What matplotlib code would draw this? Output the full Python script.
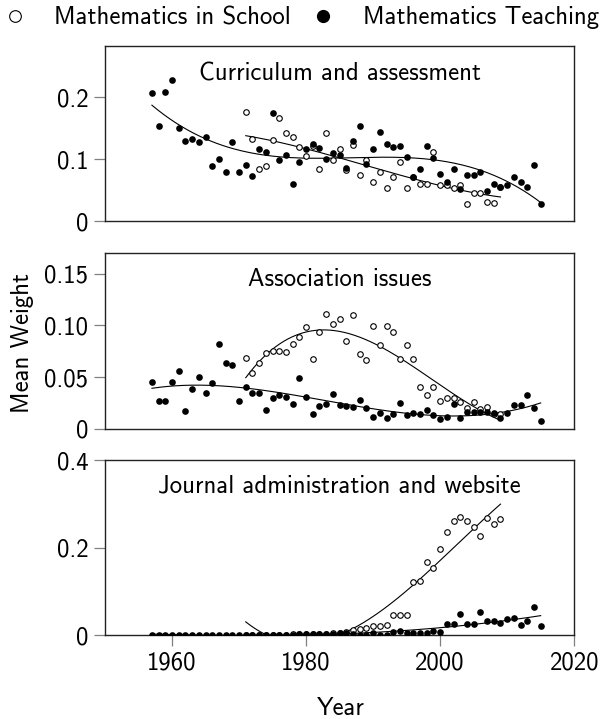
import numpy as np
import matplotlib
matplotlib.use("Agg")
import matplotlib.pyplot as plt
from matplotlib.lines import Line2D

plt.rcParams['font.family'] = ['cmss10', 'DejaVu Sans']
plt.rcParams['axes.unicode_minus'] = False
plt.rcParams['mathtext.fontset'] = 'cm'

# years
yrs_teach = np.arange(1957, 2016)   # Mathematics Teaching
yrs_school = np.arange(1971, 2010)  # Mathematics in School

# Curriculum and assessment
cur_teach = [0.207, 0.154, 0.208, 0.228, 0.151, 0.130, 0.133, 0.128, 0.135, 0.089,
             0.100, 0.080, 0.128, 0.080, 0.091, 0.073, 0.117, 0.112, 0.175, 0.099,
             0.107, 0.060, 0.095, 0.116, 0.124, 0.118, 0.100, 0.110, 0.107, 0.086,
             0.130, 0.153, 0.092, 0.117, 0.143, 0.124, 0.120, 0.121, 0.104, 0.071,
             0.085, 0.121, 0.102, 0.077, 0.063, 0.084, 0.052, 0.075, 0.075, 0.080,
             0.049, 0.061, 0.056, 0.059, 0.071, 0.063, 0.056, 0.090, 0.028]
cur_school = [0.176, 0.133, 0.084, 0.089, 0.131, 0.167, 0.142, 0.135, 0.120, 0.106,
              0.122, 0.084, 0.142, 0.099, 0.116, 0.083, 0.123, 0.075, 0.098, 0.064,
              0.080, 0.054, 0.071, 0.096, 0.054, 0.072, 0.060, 0.060, 0.111, 0.058,
              0.058, 0.053, 0.058, 0.028, 0.046, 0.045, 0.031, 0.029, 0.056]

# Association issues
ass_teach = [0.045, 0.027, 0.027, 0.045, 0.056, 0.017, 0.039, 0.050, 0.035, 0.044,
             0.082, 0.064, 0.062, 0.027, 0.041, 0.035, 0.035, 0.018, 0.030, 0.033,
             0.031, 0.024, 0.049, 0.031, 0.014, 0.022, 0.024, 0.034, 0.023, 0.022,
             0.021, 0.028, 0.020, 0.012, 0.015, 0.011, 0.014, 0.025, 0.013, 0.015,
             0.014, 0.018, 0.013, 0.010, 0.012, 0.024, 0.011, 0.016, 0.016, 0.016,
             0.016, 0.015, 0.011, 0.015, 0.023, 0.023, 0.033, 0.020, 0.008]
ass_school = [0.069, 0.054, 0.064, 0.073, 0.075, 0.075, 0.074, 0.082, 0.089, 0.098,
              0.068, 0.094, 0.111, 0.101, 0.106, 0.085, 0.110, 0.072, 0.067, 0.099,
              0.081, 0.099, 0.094, 0.068, 0.081, 0.068, 0.041, 0.033, 0.041, 0.027,
              0.030, 0.030, 0.026, 0.020, 0.026, 0.019, 0.021, 0.014, 0.014]

# Journal administration and website
jou_teach = [0.000, 0.000, 0.000, 0.000, 0.000, 0.000, 0.000, 0.000, 0.000, 0.000,
             0.000, 0.000, 0.000, 0.000, 0.000, 0.000, 0.000, 0.000, 0.001, 0.001,
             0.001, 0.001, 0.002, 0.002, 0.002, 0.002, 0.003, 0.003, 0.004, 0.005,
             0.002, 0.000, 0.000, 0.004, 0.000, 0.000, 0.007, 0.009, 0.005, 0.004,
             0.004, 0.005, 0.009, 0.007, 0.025, 0.025, 0.047, 0.025, 0.026, 0.052,
             0.033, 0.033, 0.028, 0.037, 0.038, 0.023, 0.031, 0.064, 0.020]
jou_school = [0.001, 0.001, 0.001, 0.001, 0.001, 0.001, 0.001, 0.002, 0.002, 0.002,
              0.002, 0.003, 0.003, 0.004, 0.005, 0.008, 0.011, 0.013, 0.015, 0.021,
              0.021, 0.024, 0.046, 0.046, 0.046, 0.121, 0.124, 0.166, 0.153, 0.196,
              0.236, 0.261, 0.269, 0.261, 0.247, 0.227, 0.268, 0.253, 0.265]

panels = [
    ("Curriculum and assessment", cur_school, cur_teach, 0.282,
     [0, 0.1, 0.2], ["0", "0.1", "0.2"], 0.806),
    ("Association issues", ass_school, ass_teach, 0.17,
     [0, 0.05, 0.10, 0.15], ["0", "0.05", "0.10", "0.15"], 0.812),
    ("Journal administration and website", jou_school, jou_teach, 0.4,
     [0, 0.2, 0.4], ["0", "0.2", "0.4"], 0.815),
]

FS = 17.8
fig = plt.figure(figsize=(6.0, 7.19), dpi=100)
boxes = [(0.175, 0.692, 0.782, 0.244),
         (0.175, 0.4034, 0.782, 0.2448),
         (0.175, 0.1168, 0.782, 0.2434)]
tickgrey = '#808080'

for i, (title, sch, tea, ytop, yt, ytl, ty) in enumerate(panels):
    ax = fig.add_axes(boxes[i])
    ax.plot(yrs_school, sch, 'o', ms=4.0, mfc='white', mec='black', mew=0.8, zorder=3)
    ax.plot(yrs_teach, tea, 'o', ms=4.8, mfc='black', mec='black', mew=0, zorder=4)
    # smooth trends (cubic fits)
    for yy, vv in ((yrs_school, sch), (yrs_teach, tea)):
        c = np.polyfit(yy, vv, 3)
        xs = np.linspace(yy[0], yy[-1], 200)
        ax.plot(xs, np.polyval(c, xs), color='black', lw=0.8, zorder=2)
    ax.set_xlim(1950, 2020)
    ax.set_ylim(0, ytop)
    ax.set_yticks(yt)
    ax.set_yticklabels(ytl)
    ax.tick_params(axis='y', length=8, width=0.9, color=tickgrey, labelsize=FS, pad=4)
    if i < 2:
        ax.set_xticks([])
    else:
        ax.set_xticks([1960, 1980, 2000, 2020])
        ax.tick_params(axis='x', length=8, width=0.9, color=tickgrey, labelsize=FS, pad=4)
    for s in ax.spines.values():
        s.set_linewidth(1.0)
        s.set_color('#222222')
    ax.text(0.5, ty, title, transform=ax.transAxes, ha='center', va='baseline', fontsize=FS)

fig.text(0.0375, 0.523, "Mean Weight", rotation=90, ha='center', va='center', fontsize=FS)
fig.text(0.568, 0.0056, "Year", ha='center', va='baseline', fontsize=FS)

handles = [Line2D([], [], ls='none', marker='o', ms=8.4, mfc='white', mec='black', mew=0.8),
           Line2D([], [], ls='none', marker='o', ms=9.5, mfc='black', mec='black', mew=0)]
fig.legend(handles, ["Mathematics in School", "Mathematics Teaching"], ncol=2,
           loc='center', bbox_to_anchor=(0.5013, 0.975), frameon=False, fontsize=FS,
           handletextpad=1.1, columnspacing=0.8, handlelength=1.0,
           borderpad=0, borderaxespad=0)

fig.savefig("out.png", dpi=100)
